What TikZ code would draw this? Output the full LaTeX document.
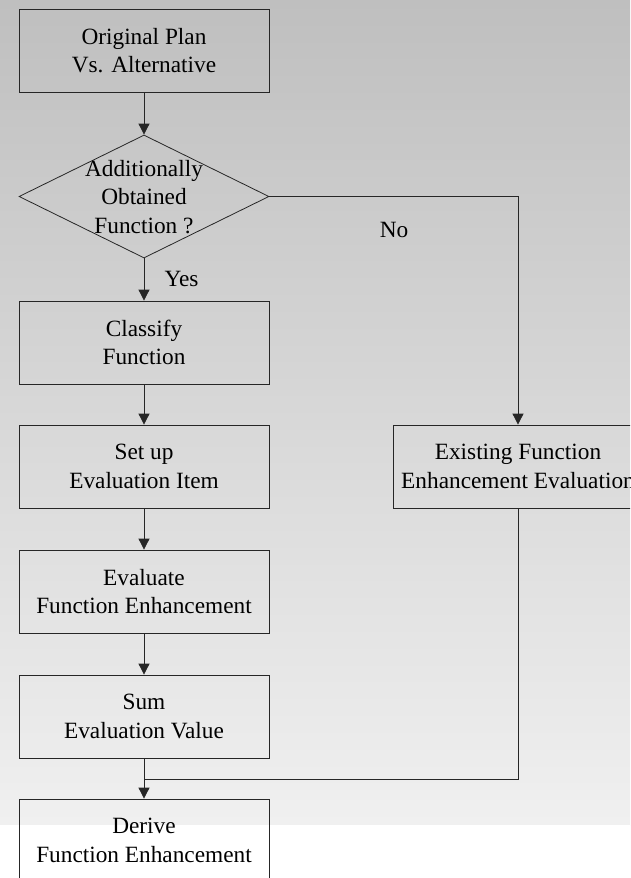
\documentclass[tikz,border=0pt]{standalone}
\usepackage{fontspec}
\setmainfont{Liberation Serif}
\usetikzlibrary{shapes.geometric,arrows.meta}
\definecolor{bgtop}{HTML}{BFBFBF}
\definecolor{bgbot}{HTML}{F0F0F0}
\begin{document}
\begin{tikzpicture}[x=1pt,y=-1pt,
  txt/.style={font=\fontsize{23.3}{28.5}\selectfont, align=center, inner sep=0pt},
  stepbox/.style={txt, draw=black!85, line width=0.8pt, minimum width=250pt, minimum height=83pt},
  decbox/.style={draw=black!85, line width=0.8pt, diamond, aspect=2.03, minimum width=250pt, minimum height=123pt, inner sep=0pt},
  conn/.style={draw=black!85, line width=0.8pt},
  arr/.style={conn, -{Triangle[length=11pt,width=11pt]}}
]
\clip (0,0) rectangle (630,878);
\shade[top color=bgtop, bottom color=bgbot] (0,0) rectangle (630,825);
\fill[white] (0,825) rectangle (630,878);

\node[stepbox] (orig) at (144,50.5) {Original Plan\\Vs. Alternative};
\node[decbox] (dia) at (144,196.5) {};
\node[txt] (diatext) at (144,197) {Additionally\\Obtained\\Function ?};
\node[stepbox] (cls) at (144,342.5) {Classify\\Function};
\node[stepbox] (set) at (144,466.5) {Set up\\Evaluation Item};
\node[stepbox] (eva) at (144,591.5) {Evaluate\\Function Enhancement};
\node[stepbox] (sum) at (144,716.5) {Sum\\Evaluation Value};
\node[stepbox] (der) at (144,840.5) {Derive\\Function Enhancement};
\node[stepbox] (ex) at (518,466.5) {Existing Function\\Enhancement Evaluation};

\node[txt] (yes) at (181.5,279) {Yes};
\node[txt] (no) at (394,230) {No};

\coordinate (join) at (144,779);

\draw[arr] (orig.south) -- (dia.north);
\draw[arr] (dia.south) -- (cls.north);
\draw[arr] (cls.south) -- (set.north);
\draw[arr] (set.south) -- (eva.north);
\draw[arr] (eva.south) -- (sum.north);
\draw[arr] (sum.south) -- (der.north);
\draw[arr] (dia.east) -| (ex.north);
\draw[conn] (ex.south) |- (join);
\end{tikzpicture}
\end{document}
